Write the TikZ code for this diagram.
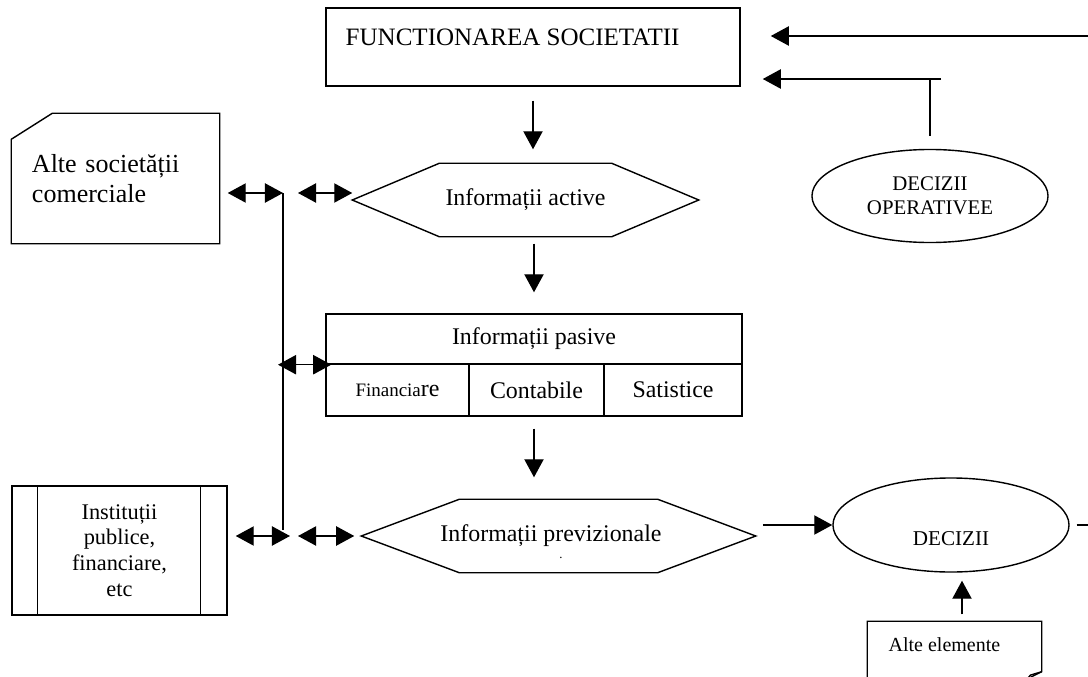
\documentclass[tikz,border=0pt]{standalone}
\usepackage{fontspec}
\setmainfont{Liberation Serif}
\usetikzlibrary{arrows.meta,shapes.geometric,calc}
\begin{document}
\begin{tikzpicture}[x=0.025cm,y=-0.025cm,line width=1pt,
    font=\fontsize{17}{20}\selectfont,
    box/.style={draw,inner sep=0pt},
    arr/.style={-{Triangle[length=0.45cm,width=0.48cm]}},
    darr/.style={{Triangle[length=0.45cm,width=0.48cm]}-{Triangle[length=0.45cm,width=0.48cm]}}]
  \useasboundingbox (0,0) rectangle (1088,677);
  % top box
  \node[box, minimum width=10.35cm, minimum height=1.95cm] (func) at (533,47) {};
  \node[anchor=base west, inner sep=0pt, font=\fontsize{17.8}{20}\selectfont] (functxt) at (345,45) {FUNCTIONAREA SOCIETATII};
  % hexagon 1
  \node[inner sep=0pt, minimum width=8.625cm, minimum height=1.8cm] (act) at (525.5,200) {Informații active};
  \draw (act.west) -- ([xshift=2.175cm]act.north west) -- ([xshift=-2.175cm]act.north east)
    -- (act.east) -- ([xshift=-2.175cm]act.south east) -- ([xshift=2.175cm]act.south west) -- cycle;
  % passive info table
  \node[box, minimum width=10.4cm, minimum height=1.25cm] (pas) at (534,339) {Informații pasive};
  \node[box, minimum width=3.575cm, minimum height=1.3cm] (fin) at (397.5,390) {{\fontsize{13.5}{16}\selectfont Financia}re};
  \node[box, minimum width=3.375cm, minimum height=1.3cm] (cont) at (536.5,390) {Contabile};
  \node[box, minimum width=3.45cm, minimum height=1.3cm] (sat) at (673,390) {Satistice};
  % hexagon 2
  \node[inner sep=0pt, minimum width=9.825cm, minimum height=1.8cm] (prev) at (558.5,536) {};
  \node[inner sep=0pt] (prevtxt) at (551,536) {Informații previzionale};
  \node[inner sep=0pt, font=\fontsize{9}{9}\selectfont] (dot) at (561,558) {.};
  \draw (prev.west) -- ([xshift=2.45cm]prev.north west) -- ([xshift=-2.45cm]prev.north east)
    -- (prev.east) -- ([xshift=-2.45cm]prev.south east) -- ([xshift=2.45cm]prev.south west) -- cycle;
  % decisions
  \node[box, ellipse, minimum width=5.9cm, minimum height=2.35cm] (dec) at (951,525) {};
  \node[inner sep=0pt, font=\fontsize{15}{18}\selectfont] (dectxt) at (951,539) {DECIZII};
  \node[box, ellipse, minimum width=5.9cm, minimum height=2.325cm, align=center,
    font=\fontsize{14.8}{17}\selectfont] (decop) at (930,196) {DECIZII\\OPERATIVEE};
  % left side
  \node[inner sep=0pt, minimum width=5.175cm, minimum height=3.225cm, text width=4.175cm, align=left,
    font=\fontsize{18.5}{21.3}\selectfont] (altsoc) at (115.5,178.5) {Alte societății\\comerciale};
  \draw ([yshift=-0.65cm]altsoc.north west) -- ([xshift=1.025cm]altsoc.north west) -- (altsoc.north east)
    -- (altsoc.south east) -- (altsoc.south west) -- cycle;
  \node[box, minimum width=5.375cm, minimum height=3.225cm, align=center,
    font=\fontsize{15.9}{18.3}\selectfont] (inst) at (119.5,550.5) {Instituții\\publice,\\financiare,\\etc};
  \draw ([xshift=0.65cm]inst.north west) -- ([xshift=0.65cm]inst.south west);
  \draw ([xshift=-0.675cm]inst.north east) -- ([xshift=-0.675cm]inst.south east);
  % other elements
  \node[inner sep=0pt, minimum width=4.325cm, minimum height=1.4cm] (altel) at (954.5,650) {};
  \node[anchor=west, inner sep=0pt, font=\fontsize{14.2}{17}\selectfont] (alteltxt) at (888,645) {Alte elemente};
  \draw ([yshift=-0.3cm]altel.south west) -- (altel.north west) -- (altel.north east)
    -- ([yshift=0.175cm]altel.south east) -- ([xshift=-0.45cm,yshift=-0.05cm]altel.south east);
  \draw ([yshift=0.175cm]altel.south east) -- ([xshift=-0.28cm,yshift=0.09cm]altel.south east)
    -- ([xshift=-0.38cm,yshift=-0.02cm]altel.south east);
  % coordinates
  \coordinate (edgeA) at (1088,36);
  \coordinate (edgeB) at (1088,525);
  \coordinate (tee) at (930,79);
  \coordinate (busT) at (283,193);
  \coordinate (busB) at (283,530);
  % arrows
  \draw[arr, shorten <=0.35cm, shorten >=0.35cm] (func.south) -- (func.south |- act.north);
  \draw[arr, shorten <=0.175cm, shorten >=0.525cm] (pas.north |- act.south) -- (pas.north);
  \draw[arr, shorten <=0.3cm, shorten >=0.55cm] (pas.south |- cont.south) -- (pas.south |- prev.north);
  \draw[arr, shorten <=0.175cm] (prev.east |- dec.west) -- (dec.west);
  \draw[arr, shorten <=0.175cm, shorten >=0.2cm] ([xshift=0.1875cm]altel.north) -- ([xshift=0.1875cm]altel.north |- dec.south);
  \draw[shorten <=0.175cm] (dec.east) -- (edgeB);
  \draw[arr, shorten >=0.75cm] (edgeA) -- (edgeA -| func.east);
  \draw[shorten <=0.325cm] (decop.north) -- (tee);
  \draw[arr, shorten >=0.55cm] ([xshift=0.275cm]tee) -- (tee -| func.east);
  % bus on the left
  \draw (busT) -- (busB);
  \draw[darr, shorten <=0.2cm] (altsoc.east |- busT) -- (busT);
  \draw[darr, shorten <=0.375cm] (busT) -- (busT -| act.west);
  \draw[darr, shorten <=-0.125cm] (busT |- pas.south) -- ($(pas.south west)+(6,0)$);
  \draw[darr, shorten <=0.2cm] (inst.east |- prev.west) -- ($(busB |- prev.west)+(7,0)$);
  \draw[darr, shorten <=0.375cm, shorten >=0.175cm] (busB |- prev.west) -- (prev.west);
\end{tikzpicture}
\end{document}
